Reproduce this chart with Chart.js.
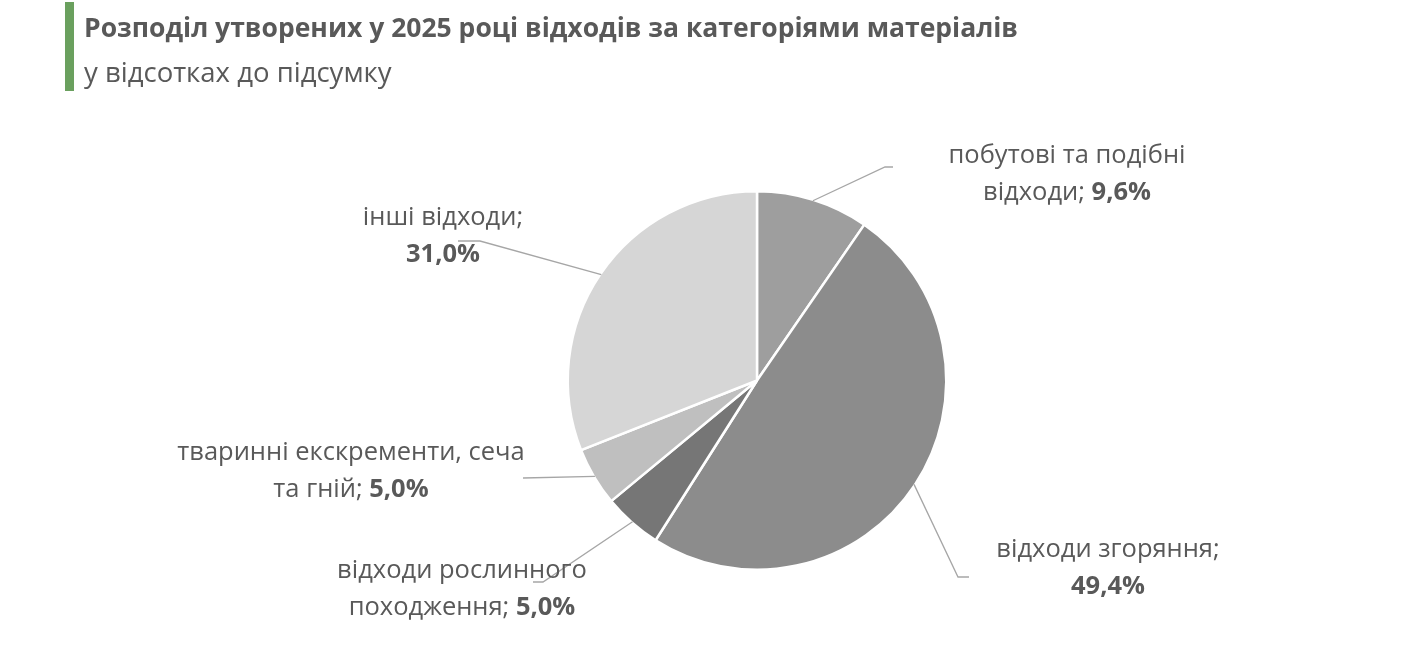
<!DOCTYPE html>
<html lang="uk">
<head>
<meta charset="utf-8">
<script src="https://cdn.jsdelivr.net/npm/chart.js@4"></script>
<style>
  html, body { margin: 0; padding: 0; background: #ffffff; }
  body { width: 1420px; height: 652px; position: relative; overflow: hidden; font-family: "Open Sans", sans-serif; }
  #bar { position: absolute; left: 65px; top: 2px; width: 9px; height: 89px; background: #6aa05e; }
  #title { position: absolute; left: 84px; top: 13.5px; font-size: 26.5px; font-weight: 700; color: #595959; white-space: nowrap; line-height: 1; }
  #subtitle { position: absolute; left: 84px; top: 57.5px; font-size: 27.5px; font-weight: 400; color: #595959; white-space: nowrap; line-height: 1; }
  #wrap { position: absolute; left: 0; top: 0; width: 1420px; height: 652px; }
</style>
</head>
<body>
<div id="wrap"><canvas id="c"></canvas></div>
<div id="bar"></div>
<div id="title">Розподіл утворених у 2025 році відходів за категоріями матеріалів</div>
<div id="subtitle">у відсотках до підсумку</div>
<script>
// ---- data ----
const categories = [
  'побутові та подібні відходи',
  'відходи згоряння',
  'відходи рослинного походження',
  'тваринні екскременти, сеча та гній',
  'інші відходи'
];
const shares = [9.6, 49.4, 5.0, 5.0, 31.0];
// label text broken into lines (value appended in bold to the last line)
const labelLines = [
  ['побутові та подібні', 'відходи; '],
  ['відходи згоряння;', ''],
  ['відходи рослинного', 'походження; '],
  ['тваринні екскременти, сеча', 'та гній; '],
  ['інші відходи;', '']
];
const sliceColors = ['#9e9e9e', '#8c8c8c', '#767676', '#bfbfbf', '#d6d6d6'];

// ---- label layout (text centre x, first baseline y, leader elbow, leader end) ----
const labelLayout = [
  { cx: 1067, y: 163, elbow: [885, 167], end: [893, 167] },
  { cx: 1108, y: 557, elbow: [958, 577], end: [969, 577] },
  { cx: 462,  y: 578, elbow: [543, 582], end: [533, 582] },
  { cx: 351,  y: 460, elbow: [523, 478], end: [523, 478] },
  { cx: 443,  y: 225, elbow: [480, 241], end: [458, 241] }
];
const LINE_H = 36.5;
const FONT_PX = 25.5;
const FONT_FAMILY = '"Open Sans", sans-serif';
const TEXT_COLOR = '#595959';
const LEADER_COLOR = '#a6a6a6';

function fmt(v) { return v.toFixed(1).replace('.', ',') + '%'; }

const labelPlugin = {
  id: 'pieLabels',
  afterDatasetsDraw(chart) {
    const ctx = chart.ctx;
    const meta = chart.getDatasetMeta(0);
    ctx.save();
    meta.data.forEach((arc, i) => {
      const p = arc.getProps(['x', 'y', 'startAngle', 'endAngle', 'outerRadius'], true);
      const mid = (p.startAngle + p.endAngle) / 2;
      const ax = p.x + Math.cos(mid) * (p.outerRadius - 1);
      const ay = p.y + Math.sin(mid) * (p.outerRadius - 1);
      const L = labelLayout[i];
      // leader line
      ctx.strokeStyle = LEADER_COLOR;
      ctx.lineWidth = 1.3;
      ctx.beginPath();
      ctx.moveTo(ax, ay);
      ctx.lineTo(L.elbow[0], L.elbow[1]);
      ctx.lineTo(L.end[0], L.end[1]);
      ctx.stroke();
      // text
      const lines = labelLines[i];
      const val = fmt(shares[i]);
      ctx.fillStyle = TEXT_COLOR;
      ctx.textBaseline = 'alphabetic';
      lines.forEach((ln, k) => {
        const y = L.y + k * LINE_H;
        const isLast = k === lines.length - 1;
        ctx.font = '400 ' + FONT_PX + 'px ' + FONT_FAMILY;
        const w1 = ctx.measureText(ln).width;
        let w2 = 0;
        if (isLast) {
          ctx.font = '700 ' + FONT_PX + 'px ' + FONT_FAMILY;
          w2 = ctx.measureText(val).width;
        }
        let x = L.cx - (w1 + w2) / 2;
        ctx.textAlign = 'left';
        ctx.font = '400 ' + FONT_PX + 'px ' + FONT_FAMILY;
        ctx.fillText(ln, x, y);
        if (isLast) {
          ctx.font = '700 ' + FONT_PX + 'px ' + FONT_FAMILY;
          ctx.fillText(val, x + w1, y);
        }
      });
    });
    ctx.restore();
  }
};

new Chart(document.getElementById('c'), {
  type: 'pie',
  data: {
    labels: categories,
    datasets: [{
      data: shares,
      backgroundColor: sliceColors,
      borderColor: '#ffffff',
      borderWidth: 2.5
    }]
  },
  options: {
    responsive: true,
    maintainAspectRatio: false,
    animation: false,
    devicePixelRatio: 1,
    layout: { padding: { top: 190, bottom: 81, left: 400, right: 306 } },
    plugins: {
      legend: { display: false },
      tooltip: { enabled: false },
      title: { display: false }
    }
  },
  plugins: [labelPlugin]
});
</script>
</body>
</html>
